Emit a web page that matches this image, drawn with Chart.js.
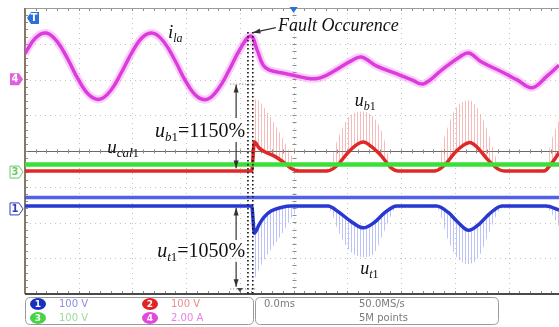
<!DOCTYPE html>
<html lang="en">
<head>
<meta charset="UTF-8">
<title>Fault occurrence - scope capture</title>
<script src="https://cdn.jsdelivr.net/npm/chart.js"></script>
<style>
  html, body { margin: 0; padding: 0; background: #fff; }
  #wrap { width: 559px; height: 327px; position: relative; }
</style>
</head>
<body>
<div id="wrap"><canvas id="scope" width="559" height="327"></canvas></div>
<script>
// screen is 10 x 8 divisions, values below are in divisions
const xDivs = [0, 1, 2, 3, 4, 5, 6, 7, 8, 9];
const yDivs = [-4, -3, -2, -1, 0, 1, 2, 3, 4];

// ch4 i_la (magenta)
const ilaX = [0, 0.2, 0.4, 0.6, 0.8, 1.0, 1.2, 1.4, 1.6, 1.8, 2.0, 2.2, 2.4, 2.6, 2.8, 3.0, 3.2, 3.4, 3.6, 3.8, 4.0, 4.2,
              4.32, 4.43, 4.54, 4.77, 5.05, 5.33, 5.51, 5.79, 6.07, 6.26, 6.54, 6.86, 7.20, 7.42, 7.76, 8.09, 8.26, 8.50, 8.88, 9.16, 9.44, 9.72, 9.94];
const ilaY = [2.73, 3.17, 3.30, 3.06, 2.56, 1.98, 1.56, 1.45, 1.70, 2.21, 2.78, 3.20, 3.29, 3.02, 2.51, 1.93, 1.53, 1.45, 1.74, 2.26, 2.84, 3.22,
              2.83, 2.41, 2.27, 2.19, 2.10, 2.02, 2.05, 2.27, 2.52, 2.63, 2.38, 2.19, 1.99, 1.88, 2.27, 2.63, 2.74, 2.49, 2.21, 1.99, 1.77, 2.10, 2.40];

// ch3 u_cal1 (green)
const calX = [0, 2.5, 5, 7.5, 9.94];
const calY = [-0.38, -0.38, -0.38, -0.38, -0.38];

// ch2 u_b1 (red): dense trace and spike envelope
const ubX = [0, 4.22, 4.27, 4.36, 4.50, 4.65, 4.80, 4.95, 5.10, 5.62, 5.80, 5.98, 6.15, 6.30, 6.45, 6.64, 6.82, 6.94,
             7.63, 7.82, 8.00, 8.15, 8.28, 8.42, 8.60, 8.80, 8.92, 9.66, 9.80, 9.94];
const ubY = [-0.56, -0.56, 0.25, 0.08, -0.05, -0.15, -0.30, -0.48, -0.56, -0.56, -0.42, -0.10, 0.15, 0.25, 0.12, -0.15, -0.48, -0.56,
             -0.56, -0.38, -0.05, 0.15, 0.24, 0.10, -0.22, -0.50, -0.56, -0.56, -0.35, -0.05];
const ubPeak = [-0.56, -0.56, 1.45, 1.40, 1.10, 0.75, 0.35, -0.10, -0.50, -0.50, 0.25, 0.85, 1.08, 1.10, 1.00, 0.55, -0.40, -0.55,
                -0.50, 0.45, 1.15, 1.38, 1.42, 1.20, 0.60, -0.30, -0.55, -0.50, 0.30, 0.85];

// ch1 u_t1 (blue): upper band, dense lower trace and spike envelope
const utTopX = [0, 5, 9.94];
const utTopY = [-1.30, -1.30, -1.30];
const utX = [0, 4.22, 4.27, 4.36, 4.45, 4.58, 4.77, 4.95, 5.10, 5.64, 5.85, 6.05, 6.30, 6.50, 6.70, 6.92,
             7.66, 7.88, 8.05, 8.26, 8.45, 8.65, 8.88, 9.70, 9.94];
const utY = [-1.54, -1.54, -2.30, -2.05, -1.85, -1.68, -1.58, -1.54, -1.54, -1.54, -1.72, -1.95, -2.15, -2.00, -1.72, -1.54,
             -1.54, -1.72, -1.98, -2.22, -2.05, -1.75, -1.54, -1.54, -1.65];
const utPeak = [-1.54, -1.54, -3.55, -3.30, -3.05, -2.75, -2.35, -1.90, -1.60, -1.60, -2.30, -2.80, -2.97, -2.85, -2.20, -1.60,
                -1.60, -2.50, -3.00, -3.16, -2.95, -2.25, -1.60, -1.60, -2.10];

const chLabels = [
  { n: '1', fill: '#1830c0', text: '100 V', col: '#8c8ce0' },
  { n: '2', fill: '#e02424', text: '100 V', col: '#ec8c8c' },
  { n: '3', fill: '#44d444', text: '100 V', col: '#9cdc9c' },
  { n: '4', fill: '#e048e0', text: '2.00 A', col: '#e880e8' }
];

const pts = (xs, ys) => xs.map((x, i) => ({ x: x, y: ys[i] }));

function stripes(color, gap) {
  const c = document.createElement('canvas');
  c.width = gap; c.height = 4;
  const g = c.getContext('2d');
  g.fillStyle = color;
  g.fillRect(0, 0, 1, 4);
  return g.createPattern(c, 'repeat');
}

function rich(ctx, x, y, parts) {
  parts.forEach(p => {
    ctx.font = p[1];
    ctx.fillText(p[0], x, y + (p[2] || 0));
    x += ctx.measureText(p[0]).width;
  });
}

function arrow(ctx, x1, y1, x2, y2) {
  const a = Math.atan2(y2 - y1, x2 - x1);
  ctx.beginPath();
  ctx.moveTo(x1, y1);
  ctx.lineTo(x2, y2);
  ctx.stroke();
  ctx.beginPath();
  ctx.moveTo(x2, y2);
  ctx.lineTo(x2 - 8 * Math.cos(a - 0.32), y2 - 8 * Math.sin(a - 0.32));
  ctx.lineTo(x2 - 8 * Math.cos(a + 0.32), y2 - 8 * Math.sin(a + 0.32));
  ctx.closePath();
  ctx.fill();
}

function flag(ctx, x, y, txt, fill, stroke, textCol, right) {
  ctx.beginPath();
  if (right) {
    ctx.moveTo(x, y - 6); ctx.lineTo(x + 9, y - 6); ctx.lineTo(x + 13, y); ctx.lineTo(x + 9, y + 6); ctx.lineTo(x, y + 6);
  } else {
    ctx.moveTo(x + 12, y - 6); ctx.lineTo(x + 4, y - 6); ctx.lineTo(x, y); ctx.lineTo(x + 4, y + 6); ctx.lineTo(x + 12, y + 6);
  }
  ctx.closePath();
  if (fill) { ctx.fillStyle = fill; ctx.fill(); }
  if (stroke) { ctx.strokeStyle = stroke; ctx.lineWidth = 1; ctx.stroke(); }
  ctx.fillStyle = textCol;
  ctx.font = 'bold 10px "DejaVu Sans"';
  ctx.textAlign = 'center';
  ctx.textBaseline = 'middle';
  ctx.fillText(txt, x + (right ? 5 : 7), y + 0.5);
  ctx.textAlign = 'left';
  ctx.textBaseline = 'alphabetic';
}

function roundBox(ctx, x, y, w, h, r) {
  ctx.beginPath();
  ctx.moveTo(x + r, y); ctx.lineTo(x + w - r, y); ctx.quadraticCurveTo(x + w, y, x + w, y + r);
  ctx.lineTo(x + w, y + h - r); ctx.quadraticCurveTo(x + w, y + h, x + w - r, y + h);
  ctx.lineTo(x + r, y + h); ctx.quadraticCurveTo(x, y + h, x, y + h - r);
  ctx.lineTo(x, y + r); ctx.quadraticCurveTo(x, y, x + r, y);
  ctx.stroke();
}

const scopeDecor = {
  id: 'scopeDecor',
  beforeDatasetsDraw(chart) {
    const ctx = chart.ctx, a = chart.chartArea;
    const sx = chart.scales.x, sy = chart.scales.y;
    ctx.save();
    // dotted graticule
    ctx.strokeStyle = '#c4c4c4';
    ctx.lineWidth = 1;
    ctx.setLineDash([1, 4]);
    xDivs.forEach(v => {
      if (v === 0) return;
      const x = Math.round(sx.getPixelForValue(v)) + 0.5;
      ctx.beginPath(); ctx.moveTo(x, a.top); ctx.lineTo(x, a.bottom); ctx.stroke();
    });
    yDivs.forEach(v => {
      if (v === 0 || Math.abs(v) === 4) return;
      const y = Math.round(sy.getPixelForValue(v)) + 0.5;
      ctx.beginPath(); ctx.moveTo(a.left, y); ctx.lineTo(a.right, y); ctx.stroke();
    });
    ctx.setLineDash([]);
    // centre line and minor ticks
    const cy = Math.round(sy.getPixelForValue(0)) + 0.5;
    const cx = Math.round(sx.getPixelForValue(5)) + 0.5;
    ctx.strokeStyle = '#6a6a6a';
    ctx.beginPath(); ctx.moveTo(a.left, cy); ctx.lineTo(a.right, cy); ctx.stroke();
    ctx.strokeStyle = '#8a8a8a';
    for (let v = 0.2; v < 10; v += 0.2) {
      const x = Math.round(sx.getPixelForValue(v)) + 0.5;
      ctx.beginPath(); ctx.moveTo(x, cy - 2); ctx.lineTo(x, cy + 2); ctx.stroke();
      ctx.beginPath(); ctx.moveTo(x, a.top); ctx.lineTo(x, a.top + 3); ctx.stroke();
      ctx.beginPath(); ctx.moveTo(x, a.bottom - 3); ctx.lineTo(x, a.bottom); ctx.stroke();
    }
    for (let v = -3.8; v < 4; v += 0.2) {
      const y = Math.round(sy.getPixelForValue(v)) + 0.5;
      ctx.beginPath(); ctx.moveTo(cx - 2, y); ctx.lineTo(cx + 2, y); ctx.stroke();
      ctx.beginPath(); ctx.moveTo(a.left, y); ctx.lineTo(a.left + 3, y); ctx.stroke();
    }
    // borders
    ctx.strokeStyle = '#9a9a9a';
    ctx.beginPath(); ctx.moveTo(a.left, a.top + 0.5); ctx.lineTo(a.right, a.top + 0.5); ctx.stroke();
    ctx.strokeStyle = '#8a7866';
    ctx.lineWidth = 2;
    ctx.beginPath(); ctx.moveTo(a.left, a.top); ctx.lineTo(a.left, a.bottom); ctx.stroke();
    ctx.strokeStyle = '#4a4a4a';
    ctx.beginPath(); ctx.moveTo(a.left, a.bottom); ctx.lineTo(a.right, a.bottom); ctx.stroke();
    ctx.restore();
  },
  afterDatasetsDraw(chart) {
    const ctx = chart.ctx, a = chart.chartArea;
    const sx = chart.scales.x, sy = chart.scales.y;
    const X = v => sx.getPixelForValue(v), Y = v => sy.getPixelForValue(v);
    ctx.save();
    // fault instant: double dotted line
    ctx.strokeStyle = '#111';
    ctx.lineWidth = 1.6;
    ctx.setLineDash([1.6, 2.4]);
    [4.15, 4.24].forEach(v => {
      ctx.beginPath(); ctx.moveTo(X(v), Y(3.33)); ctx.lineTo(X(v), a.bottom); ctx.stroke();
    });
    // dotted reference lines for the amplitude arrows
    ctx.strokeStyle = '#777';
    ctx.lineWidth = 1;
    ctx.setLineDash([1, 2]);
    [1.87, -3.86].forEach(v => {
      ctx.beginPath(); ctx.moveTo(X(3.82), Y(v)); ctx.lineTo(X(4.32), Y(v)); ctx.stroke();
    });
    ctx.setLineDash([]);
    ctx.strokeStyle = '#333';
    ctx.fillStyle = '#333';
    ctx.lineWidth = 1.2;
    arrow(ctx, X(3.93), Y(0.92), X(3.93), Y(1.85));
    arrow(ctx, X(3.93), Y(0.25), X(3.93), Y(-0.48));
    arrow(ctx, X(3.93), Y(-2.49), X(3.93), Y(-1.59));
    arrow(ctx, X(3.93), Y(-3.10), X(3.93), Y(-3.80));
    arrow(ctx, X(4.67), Y(3.45), X(4.24), Y(3.31));

    // labels
    ctx.fillStyle = '#111';
    const it = s => 'italic ' + s + 'px "Liberation Serif"';
    const up = s => s + 'px "Liberation Serif"';
    rich(ctx, X(4.71), Y(3.36), [['Fault Occurence', it(18)]]);
    rich(ctx, X(2.66), Y(3.16), [['i', it(19)], ['la', it(12), 4]]);
    rich(ctx, X(2.42), Y(0.39), [['u', it(20)], ['b', it(13), 4], ['1', up(13), 4], ['=1150%', up(20)]]);
    rich(ctx, X(2.46), Y(-2.97), [['u', it(20)], ['t', it(13), 4], ['1', up(13), 4], ['=1050%', up(20)]]);
    rich(ctx, X(1.53), Y(-0.06), [['u', it(19)], ['cal', it(13), 4], ['1', up(13), 4]]);
    rich(ctx, X(6.14), Y(1.26), [['u', it(18)], ['b', it(12), 4], ['1', up(12), 4]]);
    rich(ctx, X(6.24), Y(-3.44), [['u', it(18)], ['t', it(12), 4], ['1', up(12), 4]]);

    // channel markers on the left edge
    flag(ctx, 10, Y(2.01), '4', '#e060e0', null, '#fff', true);
    flag(ctx, 10, Y(-0.59), '3', '#fff', '#66cc66', '#66cc66', true);
    flag(ctx, 10, Y(-1.62), '1', '#fff', '#3040c0', '#3040c0', true);
    flag(ctx, a.left + 2, a.top + 10, 'T', '#2a70d8', null, '#fff', false);
    // trigger position marker
    ctx.fillStyle = '#2a70d8';
    ctx.beginPath();
    ctx.moveTo(X(5) - 4, a.top - 1); ctx.lineTo(X(5) + 4, a.top - 1); ctx.lineTo(X(5), a.top + 5);
    ctx.closePath(); ctx.fill();
    ctx.fillStyle = '#444';
    ctx.beginPath();
    ctx.moveTo(X(4.0) - 3, a.bottom - 6); ctx.lineTo(X(4.0) + 3, a.bottom - 6); ctx.lineTo(X(4.0), a.bottom - 2);
    ctx.closePath(); ctx.fill();

    // status bar
    const top = a.bottom + 3;
    ctx.strokeStyle = '#9a9a9a';
    ctx.lineWidth = 1;
    roundBox(ctx, a.left + 0.5, top + 0.5, 228, 27, 5);
    roundBox(ctx, 255.5, top + 0.5, 243, 27, 5);
    ctx.textBaseline = 'middle';
    chLabels.forEach((c, i) => {
      const bx = a.left + 13 + (i % 2) * 112;
      const by = top + 7 + Math.floor(i / 2) * 14;
      ctx.fillStyle = c.fill;
      ctx.beginPath(); ctx.ellipse(bx, by, 8, 6, 0, 0, Math.PI * 2); ctx.fill();
      ctx.fillStyle = '#fff';
      ctx.font = 'bold 9px "DejaVu Sans"';
      ctx.textAlign = 'center';
      ctx.fillText(c.n, bx, by + 0.5);
      ctx.textAlign = 'left';
      ctx.fillStyle = c.col;
      ctx.font = '10px "DejaVu Sans"';
      ctx.fillText(c.text, bx + 21, by + 0.5);
    });
    ctx.fillStyle = '#7a7a7a';
    ctx.font = '10px "DejaVu Sans"';
    ctx.fillText('0.0ms', 264, top + 7.5);
    ctx.fillText('50.0MS/s', 359, top + 7.5);
    ctx.fillText('5M points', 359, top + 21.5);
    ctx.restore();
  }
};

const line = (data, color, width, order, extra) => Object.assign({
  data: data, borderColor: color, borderWidth: width, pointRadius: 0, showLine: true,
  fill: false, cubicInterpolationMode: 'monotone', order: order
}, extra || {});

const smooth = { cubicInterpolationMode: 'default', tension: 0.4 };

new Chart(document.getElementById('scope'), {
  type: 'scatter',
  data: {
    datasets: [
      line(pts(ubX, ubY), '#e02828', 3.5, 5),                                   // 0 u_b1 dense
      line(pts(ubX, ubPeak), 'rgba(0,0,0,0)', 0, 7,
           { fill: { target: 0 }, backgroundColor: stripes('rgba(238,120,120,0.5)', 3) }),
      line(pts(utX, utY), '#2838d0', 3.5, 3),                                   // 2 u_t1 dense
      line(pts(utX, utPeak), 'rgba(0,0,0,0)', 0, 7,
           { fill: { target: 2 }, backgroundColor: stripes('rgba(120,135,245,0.5)', 3) }),
      line(pts(utTopX, utTopY), 'rgba(48,70,228,0.85)', 3.5, 3),
      line(pts(calX, calY), '#38e038', 4.5, 4),
      line(pts(ilaX, ilaY), 'rgba(240,120,240,0.35)', 8, 2, smooth),
      line(pts(ilaX, ilaY), '#dc3cdc', 3.5, 1, smooth)
    ]
  },
  options: {
    responsive: false,
    animation: false,
    devicePixelRatio: 1,
    layout: { padding: { left: 25, top: 8, right: 0, bottom: 33 } },
    plugins: { legend: { display: false }, tooltip: { enabled: false } },
    scales: {
      x: { type: 'linear', min: 0, max: 9.94, display: false },
      y: { type: 'linear', min: -4, max: 4, display: false }
    }
  },
  plugins: [scopeDecor]
});
</script>
</body>
</html>
